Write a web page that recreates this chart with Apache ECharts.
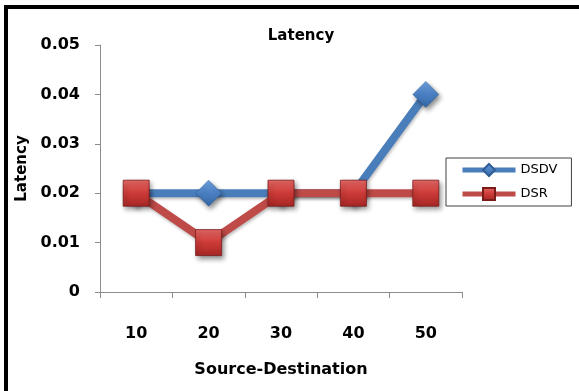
<!DOCTYPE html>
<html>
<head>
<meta charset="utf-8">
<script src="https://cdn.jsdelivr.net/npm/echarts@6/dist/echarts.min.js"></script>
<style>
  html, body { margin: 0; padding: 0; background: #fff; }
  #chart { width: 579px; height: 391px; }
</style>
</head>
<body>
<div id="chart"></div>
<script>
// Number of source-destination pairs
const categories = ['10', '20', '30', '40', '50'];
// Measured latency per routing protocol
const dsdvLatency = [0.02, 0.02, 0.02, 0.02, 0.04];
const dsrLatency = [0.02, 0.01, 0.02, 0.02, 0.02];
const seriesNames = ['DSDV', 'DSR'];

const FONT = 'DejaVu Sans';
const axisGray = '#8c8c8c';

function vGrad(stops) {
  return new echarts.graphic.LinearGradient(0, 0, 0, 1,
    stops.map((c, i) => ({ offset: i / (stops.length - 1), color: c })));
}

const chart = echarts.init(document.getElementById('chart'), null, { renderer: 'canvas' });

chart.setOption({
  backgroundColor: '#ffffff',
  animation: false,
  title: {
    text: 'Latency',
    left: 296,
    top: 24,
    textAlign: 'center',
    textStyle: { fontFamily: FONT, fontSize: 15, fontWeight: 'bold', color: '#000' }
  },
  grid: { left: 100, right: 117, top: 45, bottom: 99 },
  legend: {
    orient: 'vertical',
    left: 446,
    top: 158,
    width: 124,
    padding: [5, 14, 5, 14],
    itemWidth: 53,
    itemHeight: 15,
    itemGap: 10,
    borderColor: '#404040',
    borderWidth: 1,
    borderRadius: 0,
    data: seriesNames,
    lineStyle: { width: 5 },
    textStyle: { fontFamily: FONT, fontSize: 13, color: '#000' }
  },
  xAxis: {
    type: 'category',
    data: categories,
    boundaryGap: true,
    name: 'Source-Destination',
    nameLocation: 'middle',
    nameGap: 70,
    nameTextStyle: { fontFamily: FONT, fontSize: 16, fontWeight: 'bold', color: '#000' },
    axisLine: { lineStyle: { color: axisGray, width: 1 } },
    axisTick: { show: true, length: 6, alignWithLabel: false, lineStyle: { color: axisGray } },
    axisLabel: { margin: 34, fontFamily: FONT, fontSize: 16, fontWeight: 'bold', color: '#000' },
    splitLine: { show: false }
  },
  yAxis: {
    type: 'value',
    min: 0,
    max: 0.05,
    interval: 0.01,
    name: 'Latency',
    nameLocation: 'middle',
    nameGap: 67,
    nameTextStyle: { fontFamily: FONT, fontSize: 15, fontWeight: 'bold', color: '#000' },
    axisLine: { show: true, lineStyle: { color: axisGray, width: 1 } },
    axisTick: { show: true, length: 5, lineStyle: { color: axisGray } },
    axisLabel: { margin: 20, fontFamily: FONT, fontSize: 16, fontWeight: 'bold', color: '#000' },
    splitLine: { show: false }
  },
  series: [
    {
      name: seriesNames[0],
      type: 'line',
      data: dsdvLatency,
      symbol: 'diamond',
      symbolSize: 26,
      lineStyle: {
        color: '#4a7ebb', width: 8,
        shadowColor: 'rgba(0,0,0,0.25)', shadowBlur: 3, shadowOffsetX: 1, shadowOffsetY: 2
      },
      itemStyle: {
        color: vGrad(['#6fa0de', '#4a80c2', '#3467a6']),
        borderColor: '#2f5d95',
        borderWidth: 0.5,
        shadowColor: 'rgba(0,0,0,0.45)', shadowBlur: 5, shadowOffsetX: 2, shadowOffsetY: 3
      },
      z: 2
    },
    {
      name: seriesNames[1],
      type: 'line',
      data: dsrLatency,
      symbol: 'rect',
      symbolSize: 26,
      lineStyle: {
        color: '#be4b48', width: 8,
        shadowColor: 'rgba(0,0,0,0.25)', shadowBlur: 3, shadowOffsetX: 1, shadowOffsetY: 2
      },
      itemStyle: {
        color: vGrad(['#e86a67', '#cc3a37', '#a52725']),
        borderColor: '#7a1c1a',
        borderWidth: 0.8,
        shadowColor: 'rgba(0,0,0,0.45)', shadowBlur: 5, shadowOffsetX: 2, shadowOffsetY: 3
      },
      z: 3
    }
  ],
  graphic: [
    // black frame along the top and left edges
    { type: 'rect', shape: { x: 4, y: 5, width: 575, height: 4 }, style: { fill: '#000' }, z: 10 },
    { type: 'rect', shape: { x: 4, y: 5, width: 4, height: 386 }, style: { fill: '#000' }, z: 10 }
  ]
});
</script>
</body>
</html>
